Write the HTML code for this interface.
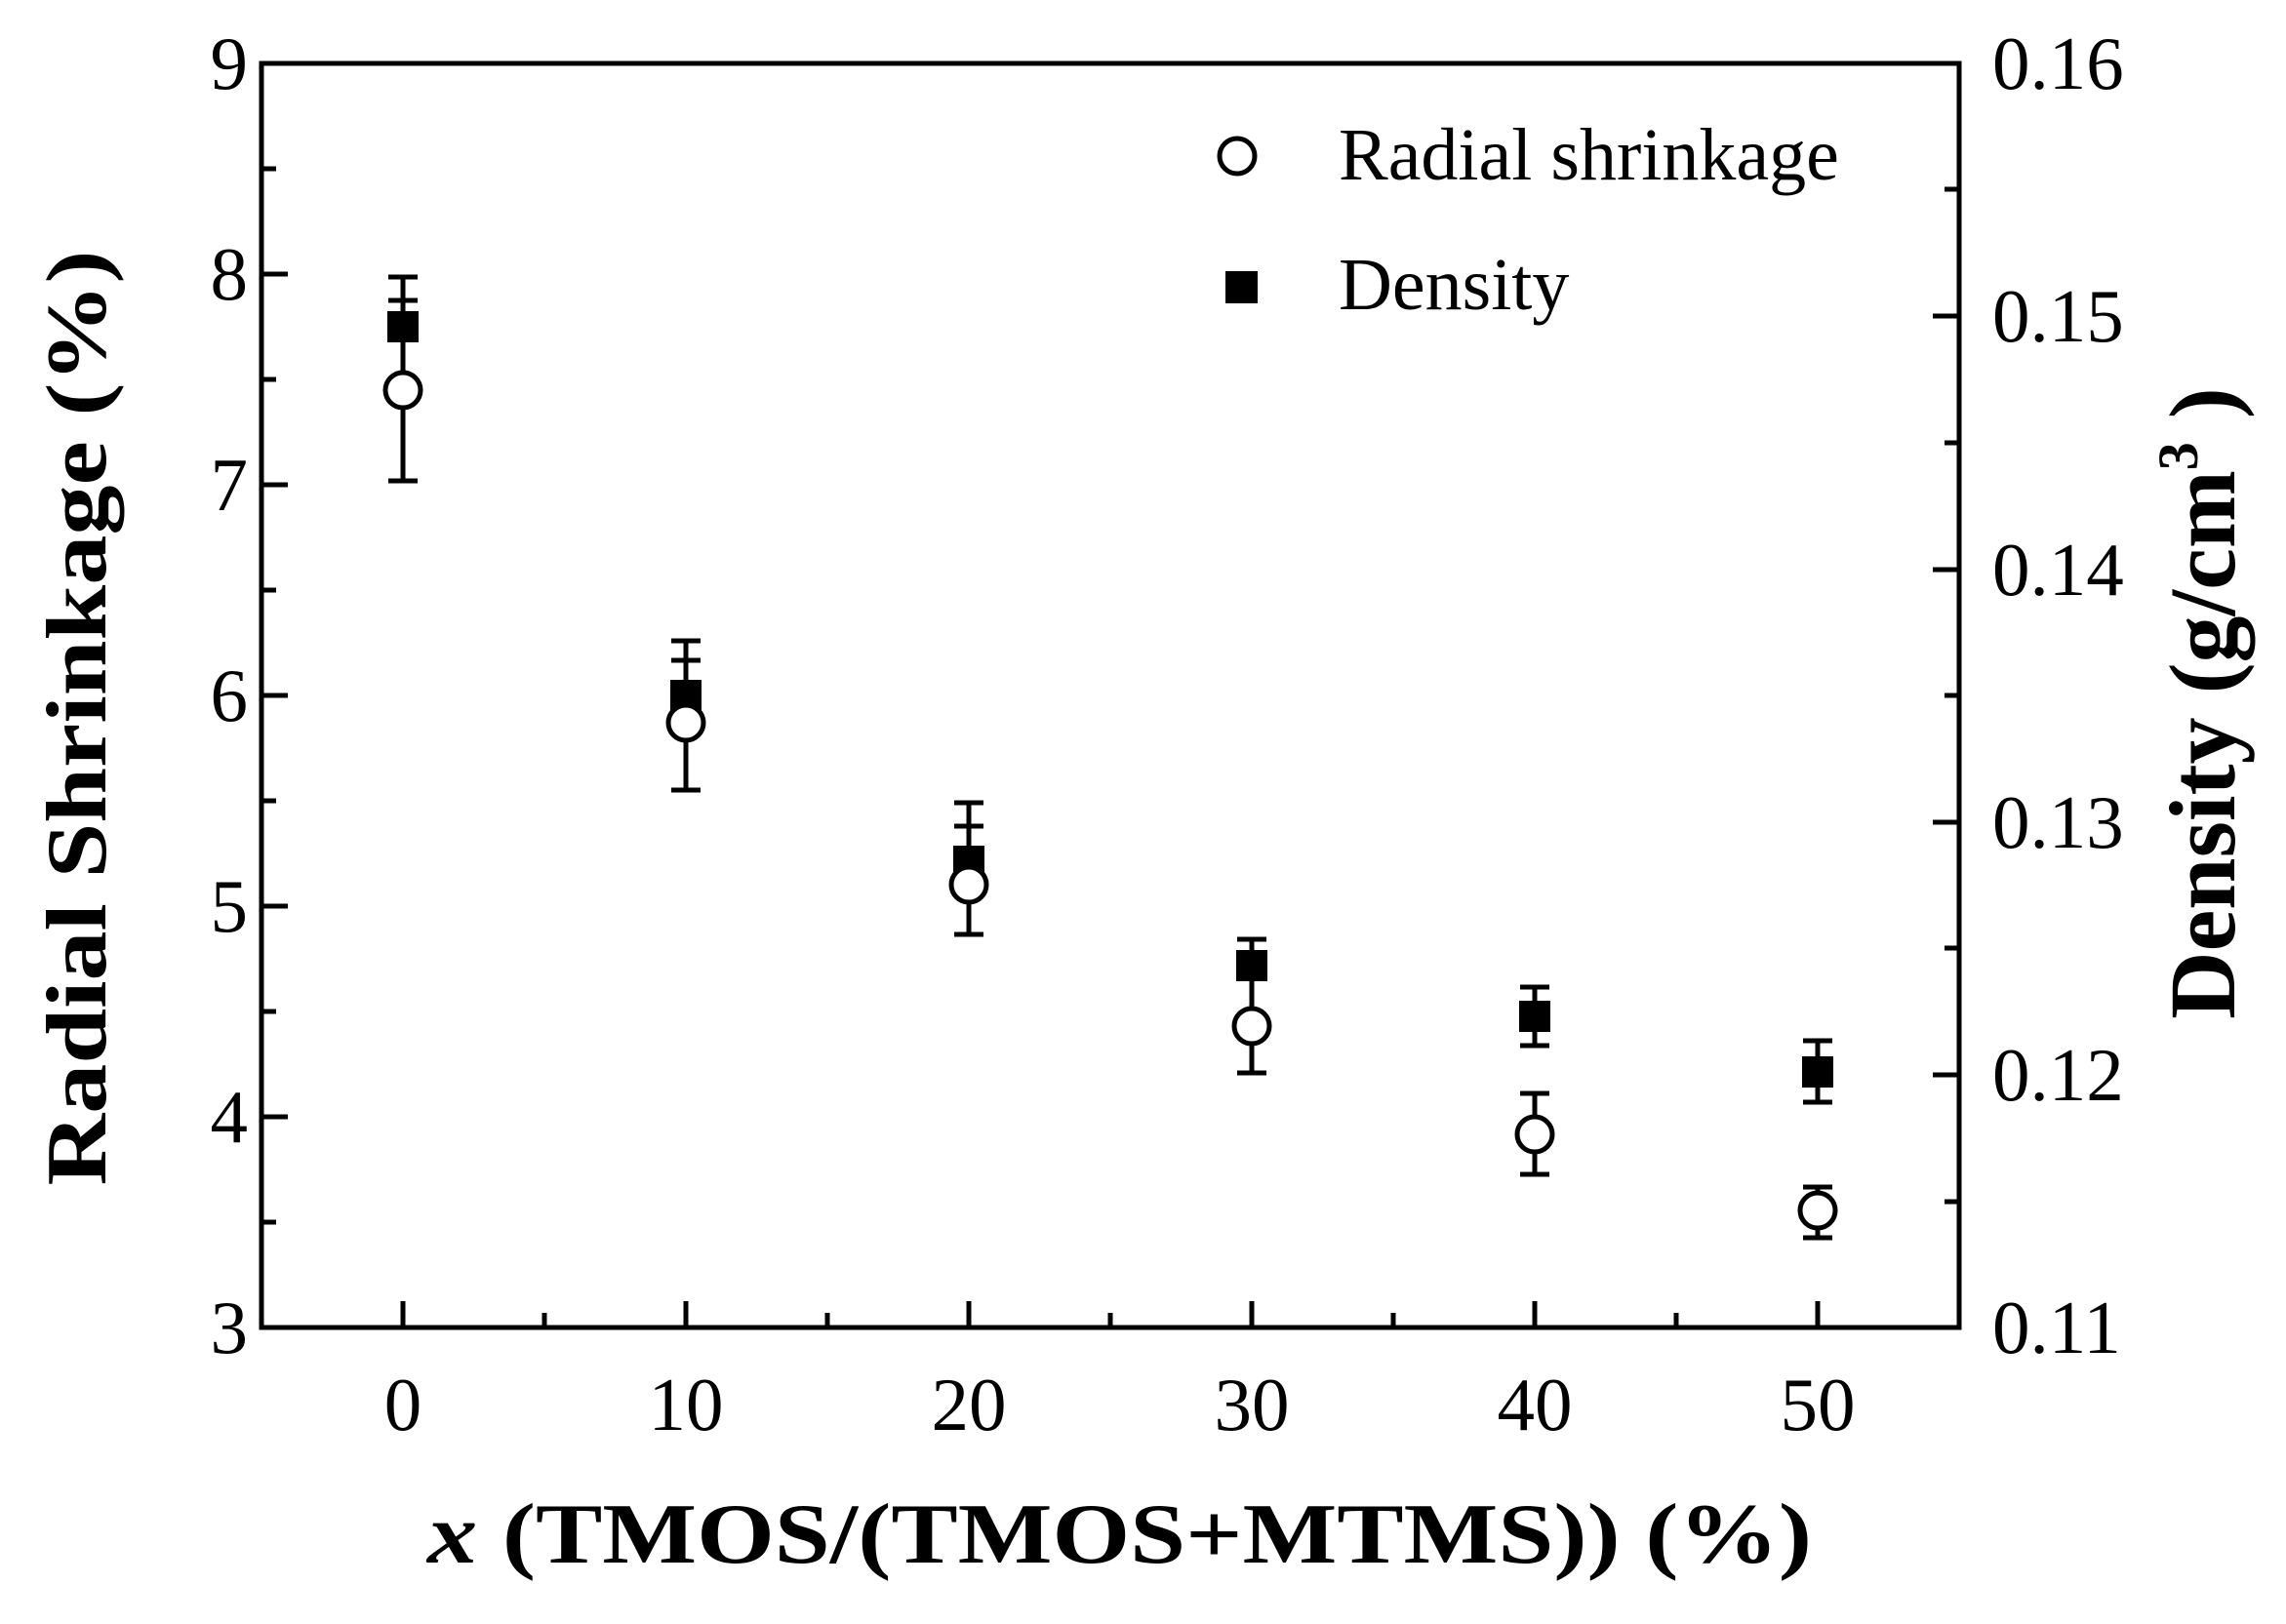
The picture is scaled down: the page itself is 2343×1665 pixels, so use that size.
<!DOCTYPE html>
<html><head><meta charset="utf-8"><style>html,body{margin:0;padding:0;background:#fff}</style></head>
<body>
<svg width="2343" height="1660" viewBox="0 0 2343 1660" xmlns="http://www.w3.org/2000/svg" font-family="'Liberation Serif', serif">
<rect width="2343" height="1660" fill="#fff"/>
<g stroke="#000" stroke-width="5" fill="none">
<rect x="268" y="65" width="1740" height="1296"/>
<path d="M268 65h27M268 281h27M268 497h27M268 713h27M268 929h27M268 1145h27M268 173h15M268 389h15M268 605h15M268 821h15M268 1037h15M268 1253h15"/>
<path d="M2008 65h-27M2008 324h-27M2008 584h-27M2008 843h-27M2008 1102h-27M2008 194h-15M2008 454h-15M2008 713h-15M2008 972h-15M2008 1232h-15"/>
<path d="M413 1361v-27M703 1361v-27M993 1361v-27M1283 1361v-27M1573 1361v-27M1863 1361v-27M558 1361v-15M848 1361v-15M1138 1361v-15M1428 1361v-15M1718 1361v-15"/>
</g>
<g font-size="77" text-anchor="end">
<text x="254" y="91">9</text><text x="254" y="307">8</text><text x="254" y="523">7</text><text x="254" y="739">6</text><text x="254" y="955">5</text><text x="254" y="1171">4</text><text x="254" y="1387">3</text>
</g>
<g font-size="77">
<text x="2042" y="91">0.16</text><text x="2042" y="350">0.15</text><text x="2042" y="610">0.14</text><text x="2042" y="869">0.13</text><text x="2042" y="1128">0.12</text><text x="2042" y="1387">0.11</text>
</g>
<g font-size="77" text-anchor="middle">
<text x="413" y="1466">0</text><text x="703" y="1466">10</text><text x="993" y="1466">20</text><text x="1283" y="1466">30</text><text x="1573" y="1466">40</text><text x="1863" y="1466">50</text>
</g>
<text x="438" y="1602" font-size="88" font-weight="bold" textLength="1419" lengthAdjust="spacingAndGlyphs"><tspan font-style="italic">x</tspan> (TMOS/(TMOS+MTMS)) (%)</text>
<text transform="translate(108,736) rotate(-90)" font-size="88" font-weight="bold" text-anchor="middle" textLength="959" lengthAdjust="spacingAndGlyphs">Radial Shrinkage (%)</text>
<text transform="translate(2290,721) rotate(-90)" font-size="96" font-weight="bold" text-anchor="middle">Density (g/cm<tspan dy="-38" font-size="58">3</tspan><tspan dy="38"> )</tspan></text>
<circle cx="1268" cy="160" r="18" fill="#fff" stroke="#000" stroke-width="5"/>
<text x="1372" y="184" font-size="76">Radial shrinkage</text>
<rect x="1256" y="278" width="33" height="33" fill="#000"/>
<text x="1372" y="317" font-size="76">Density</text>
<g stroke="#000" stroke-width="5" fill="none">
<path d="M413 284V493M398 284h30M398 308h30M398 493h30"/>
<path d="M703 657V810M688 657h30M688 677h30M688 810h30"/>
<path d="M993 823V958M978 823h30M978 847h30M978 958h30"/>
<path d="M1283 963V1100M1268 963h30M1268 1100h30"/>
<path d="M1573 1012V1072M1558 1012h30M1558 1072h30M1573 1121V1204M1558 1121h30M1558 1204h30"/>
<path d="M1863 1067V1130M1848 1067h30M1848 1130h30M1863 1217V1269M1848 1217h30M1848 1269h30"/>
</g>
<g fill="#000">
<rect x="397" y="319" width="32" height="32"/>
<rect x="687" y="697" width="32" height="32"/>
<rect x="977" y="867" width="32" height="32"/>
<rect x="1267" y="974" width="32" height="32"/>
<rect x="1557" y="1026" width="32" height="32"/>
<rect x="1847" y="1083" width="32" height="32"/>
</g>
<g fill="#fff" stroke="#000" stroke-width="5">
<circle cx="413" cy="400" r="18"/>
<circle cx="703" cy="741" r="18"/>
<circle cx="993" cy="907" r="18"/>
<circle cx="1283" cy="1052" r="18"/>
<circle cx="1573" cy="1163" r="18"/>
<circle cx="1863" cy="1241" r="18"/>
</g>
</svg>
</body></html>
